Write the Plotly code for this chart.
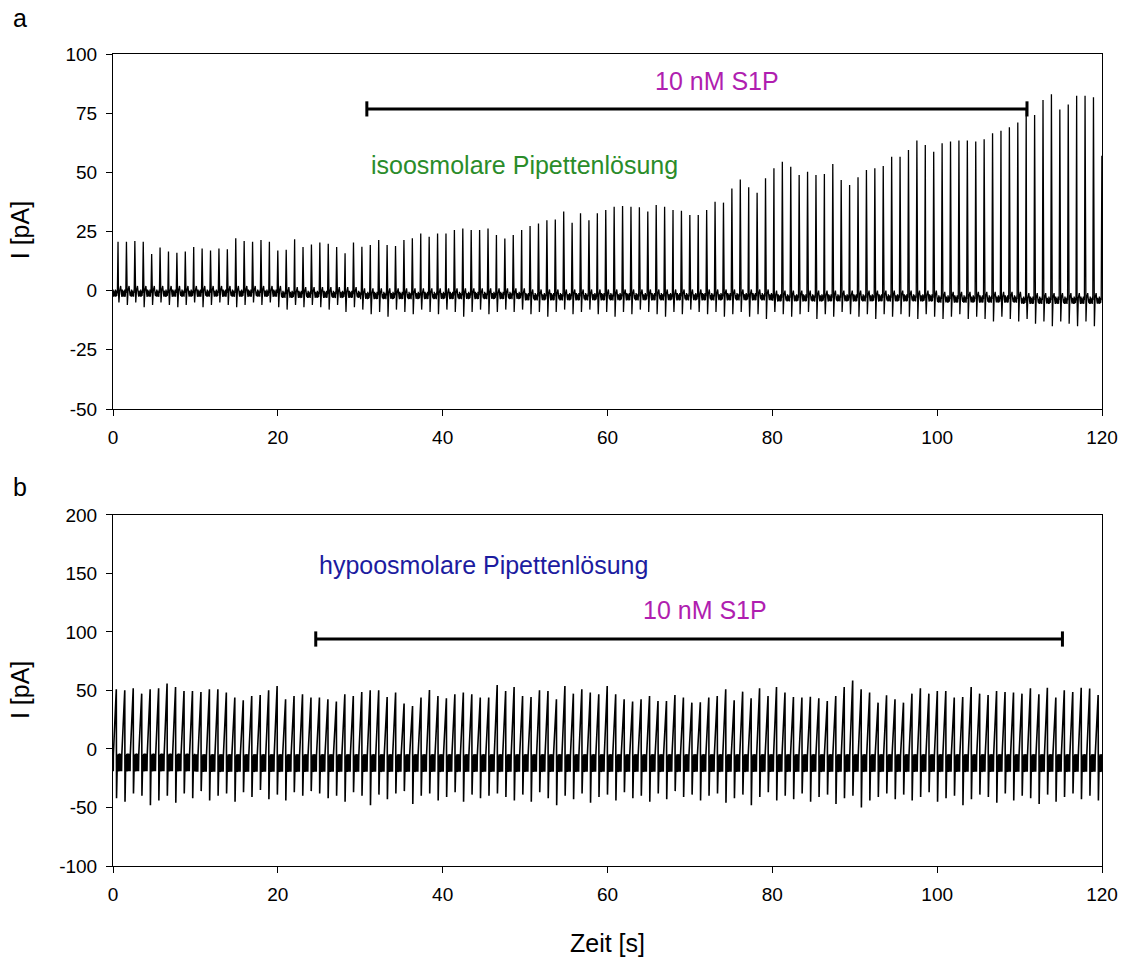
import plotly.graph_objects as go

# ---------------- recorded action currents ----------------
# Panel a: isoosmotic pipette solution
A_T0 = 0.61          # time of first spike [s]
A_PERIOD = 1.0203    # mean beat interval [s]
A_PEAK = [
    20.7, 20.7, 21.0, 20.7, 15.5, 18.2, 16.5, 16.0, 16.5, 18.5, 17.8, 17.0, 17.8, 17.5, 22.1, 21.0,
    20.7, 21.4, 20.7, 17.0, 17.3, 21.7, 18.5, 19.5,
    20.3, 19.8, 18.4, 15.8, 20.3, 18.6, 19.3, 21.4, 19.3, 18.9, 21.4, 22.1, 24.2, 22.8, 24.2, 24.2,
    25.6, 26.3, 25.6, 25.6, 26.3, 23.5, 22.0,
    23.5, 25.6, 27.3, 28.4, 29.8, 30.1, 33.4, 28.7, 32.7, 29.8, 32.7, 34.1, 35.5, 35.8, 35.5, 35.2,
    33.4, 36.2, 35.5, 34.1, 33.8, 32.0, 32.0,
    34.1, 37.6, 37.2, 43.2, 47.0, 43.7, 41.4, 47.5, 51.7, 54.5, 52.4, 48.9, 50.3, 48.9, 49.3, 53.5,
    46.8, 44.6, 47.9, 51.0, 51.7, 52.7, 56.6,
    56.6, 59.4, 63.4, 61.5, 58.7, 62.3, 63.0, 63.4, 63.4, 63.0, 64.0, 66.5, 67.6, 69.0, 71.1, 76.3,
    74.2, 80.6, 83.0, 76.6, 78.7, 82.4, 82.4, 81.7, 57.0,
]
A_TROUGH = [
    -5, -6, -5, -7, -6, -5, -6, -7, -6, -5, -7, -6, -5, -6, -7, -6, -5, -6, -5, -7, -8, -6, -7, -6,
    -7, -8, -6, -9, -7, -8, -10, -9, -11, -8, -9, -10, -8, -9, -10, -8, -9, -11, -9, -8, -10, -9, -8,
    -9, -8, -10, -9, -11, -9, -8, -10, -9, -8, -10, -9, -11, -9, -10, -8, -9, -10, -11, -9, -10, -8, -9,
    -10, -9, -11, -10, -9, -11, -10, -12, -9, -10, -11, -10, -9, -12, -10, -11, -9, -10, -11, -10, -12, -10, -11,
    -10, -11, -12, -10, -11, -12, -11, -10, -12, -11, -12, -13, -11, -12, -13, -12, -14, -13, -15, -13,
    -14, -15, -13, -15, -14,
]
# holding-current baseline, one value per 10-s block
A_BASE = [-1.0, -1.0, -1.5, -2.0, -2.0, -2.5, -2.5, -2.5, -3.0, -3.0, -3.5, -4.0]

# Panel b: hypoosmotic pipette solution
B_T0 = 0.4
B_PERIOD = 1.027
B_PEAK = [
    51.0, 50.2, 51.9, 47.3, 51.0, 51.9, 55.9, 53.0, 49.6, 49.6, 48.7, 51.0, 51.0, 48.2, 43.9, 41.6,
    45.3, 46.2, 50.2, 53.9, 42.5, 45.3, 46.7, 43.9,
    43.9, 42.5, 40.5, 46.7, 45.3, 48.7, 50.2, 50.2, 44.5, 48.2, 38.8, 36.8, 43.9, 50.4, 45.3, 43.3,
    46.7, 48.2, 46.7, 43.9, 43.9, 54.7,
    49.6, 53.0, 45.3, 44.5, 50.2, 49.6, 42.5, 53.9, 47.3, 51.0, 48.2, 46.7, 53.9, 46.7, 42.5, 40.5,
    42.5, 45.3, 41.0, 41.0, 46.2, 43.9, 39.6,
    40.0, 43.9, 45.3, 51.0, 41.6, 49.0, 43.3, 51.9, 45.3, 53.0, 48.2, 44.5, 43.9, 44.7, 43.3, 41.0,
    45.3, 53.0, 58.5, 51.0, 48.2, 39.6, 45.9, 42.5,
    39.6, 47.3, 51.9, 47.3, 49.6, 49.6, 43.9, 44.5, 53.0, 47.3, 46.2, 49.6, 48.7, 48.2, 47.3, 51.9,
    46.7, 52.4, 43.9, 50.2, 48.7, 52.4, 51.6, 46.2,
]
B_TROUGH = [
    -42, -45, -38, -40, -48, -44, -40, -46, -38, -42, -36, -44, -40, -38, -45, -37, -41, -35, -43, -39,
    -44, -37, -40, -36,
    -38, -42, -40, -45, -37, -40, -48, -39, -43, -38, -36, -47, -40, -38, -44, -41, -37, -45, -39, -42,
    -40, -38,
    -41, -44, -39, -45, -37, -42, -48, -40, -43, -38, -46, -41, -39, -44, -37, -42, -40, -45, -38, -43,
    -36, -41, -39,
    -44, -40, -38, -46, -42, -39, -48, -41, -37, -44, -40, -43, -38, -45, -41, -39, -47, -42, -40, -50,
    -44, -41, -38, -43,
    -39, -44, -41, -37, -45, -42, -40, -48, -43, -39, -41, -46, -38, -44, -40, -42, -47, -39, -45, -41,
    -38, -43, -40, -44,
]
B_BASE = [-11.5, -12.0, -12.0, -12.0, -12.0, -12.0, -12.0, -12.0, -12.0, -12.0, -12.0, -12.0]

T_END = 120.0
X_TICKS = [0, 20, 40, 60, 80, 100, 120]
A_Y_TICKS = [-50, -25, 0, 25, 50, 75, 100]
B_Y_TICKS = [-100, -50, 0, 50, 100, 150, 200]

# S1P application windows [s] and bar heights [pA]
A_S1P = (30.8, 110.9, 76.8)
B_S1P = (24.6, 115.2, 94.0)

# ---------------- waveform of a single beat ----------------
# (time offset from peak [s], anchor: b=baseline / p=peak / t=trough, offset [pA])
A_SHAPE = [(-0.08, "b", 0.0), (0.0, "p", 0.0), (0.05, "b", 1.0), (0.11, "t", 0.0),
           (0.20, "b", 1.0), (0.32, "b", 3.0), (0.42, "b", -0.5)]
A_RIPPLE = [1.5, -1.5, 1.0, -1.2, 0.6, -1.6]
A_RIPPLE_DT = 0.05

B_SHAPE = [(-0.36, "b", 6.0), (0.0, "p", 0.0), (0.03, "t", 0.0), (0.10, "b", -6.0)]
B_RIPPLE = [7.5, -7.5, 5.0, -6.5, 6.5, -5.0]
B_RIPPLE_DT = 0.03


def block_base(blocks, t):
    return blocks[max(0, min(int(t // 10), len(blocks) - 1))]


def build_trace(t0, period, peaks, troughs, blocks, shape, ripple, rdt):
    ts, ys = [], []
    cursor = 0.0
    r = 0

    def fill_ripple(start, stop):
        nonlocal r
        t = start
        while t < stop:
            ts.append(t)
            ys.append(block_base(blocks, t) + ripple[r % len(ripple)])
            r += 1
            t += rdt

    for i, (pk, tr) in enumerate(zip(peaks, troughs)):
        tp = t0 + i * period
        first = max(tp + shape[0][0], 0.0)
        fill_ripple(cursor, first)
        base = block_base(blocks, tp)
        for dt, kind, off in shape:
            t = tp + dt
            if t < 0 or t > T_END:
                continue
            if kind == "p":
                v = pk
            elif kind == "t":
                v = tr
            else:
                v = base + off
            ts.append(t)
            ys.append(v)
        cursor = tp + shape[-1][0] + rdt
    fill_ripple(cursor, T_END)
    return ts, ys


ta, ya = build_trace(A_T0, A_PERIOD, A_PEAK, A_TROUGH, A_BASE, A_SHAPE, A_RIPPLE, A_RIPPLE_DT)
tb, yb = build_trace(B_T0, B_PERIOD, B_PEAK, B_TROUGH, B_BASE, B_SHAPE, B_RIPPLE, B_RIPPLE_DT)

FONT = "Arial, Liberation Sans, sans-serif"

fig = go.Figure()
fig.add_trace(go.Scatter(x=ta, y=ya, mode="lines", line=dict(color="black", width=1.3),
                         xaxis="x", yaxis="y", showlegend=False, hoverinfo="skip"))
fig.add_trace(go.Scatter(x=tb, y=yb, mode="lines", line=dict(color="black", width=1.6),
                         xaxis="x2", yaxis="y2", showlegend=False, hoverinfo="skip"))

axis_common = dict(showline=True, linecolor="black", linewidth=1, mirror=True,
                   ticks="outside", ticklen=6, tickcolor="black", tickwidth=1,
                   showgrid=False, zeroline=False,
                   tickfont=dict(family=FONT, size=19, color="black"))


def tick_text(vals):
    # plain hyphen-minus for negative labels
    return [str(v) for v in vals]


fig.update_layout(
    width=1132, height=972,
    margin=dict(l=113, r=30, t=54, b=106),
    paper_bgcolor="white", plot_bgcolor="white",
    xaxis=dict(domain=[0, 1], anchor="y", range=[0, 120], tickvals=X_TICKS,
               ticktext=tick_text(X_TICKS), ticklabelstandoff=5, **axis_common),
    yaxis=dict(domain=[0.5628, 1], anchor="x", range=[-50, 100], tickvals=A_Y_TICKS,
               ticktext=tick_text(A_Y_TICKS), ticklabelstandoff=5, **axis_common),
    xaxis2=dict(domain=[0, 1], anchor="y2", range=[0, 120], tickvals=X_TICKS,
                ticktext=tick_text(X_TICKS), ticklabelstandoff=5, **axis_common),
    yaxis2=dict(domain=[0, 0.4323], anchor="x2", range=[-100, 200], tickvals=B_Y_TICKS,
                ticktext=tick_text(B_Y_TICKS), ticklabelstandoff=5, **axis_common),
)

# S1P application bars with end caps
for (x0, x1, yb_), xr, yr, cap in [(A_S1P, "x", "y", 3.2), (B_S1P, "x2", "y2", 6.5)]:
    fig.add_shape(type="line", x0=x0, x1=x1, y0=yb_, y1=yb_, xref=xr, yref=yr,
                  line=dict(color="black", width=3))
    for xe in (x0, x1):
        fig.add_shape(type="line", x0=xe, x1=xe, y0=yb_ - cap, y1=yb_ + cap, xref=xr, yref=yr,
                      line=dict(color="black", width=3))

MAGENTA = "#B01EB0"
GREEN = "#2A8C2A"
BLUE = "#1C1CA0"

texts = [
    dict(text="10 nM S1P", x=73.3, y=88.6, xref="x", yref="y", color=MAGENTA),
    dict(text="isoosmolare Pipettenlösung", x=49.9, y=53.1, xref="x", yref="y", color=GREEN),
    dict(text="hypoosmolare Pipettenlösung", x=44.9, y=157.3, xref="x2", yref="y2", color=BLUE),
    dict(text="10 nM S1P", x=71.8, y=118.8, xref="x2", yref="y2", color=MAGENTA),
]
for t in texts:
    fig.add_annotation(text=t["text"], x=t["x"], y=t["y"], xref=t["xref"], yref=t["yref"],
                       showarrow=False, xanchor="center", yanchor="middle",
                       font=dict(family=FONT, size=25, color=t["color"]))

# axis titles and panel letters
labels = [
    dict(text="I [pA]", x=-0.094, y=0.783, angle=-90, size=25),
    dict(text="I [pA]", x=-0.094, y=0.2167, angle=-90, size=25),
    dict(text="Zeit [s]", x=0.4995, y=-0.0948, angle=0, size=25),
    dict(text="a", x=-0.094, y=1.0443, angle=0, size=25),
    dict(text="b", x=-0.094, y=0.4667, angle=0, size=25),
]
for l in labels:
    fig.add_annotation(text=l["text"], x=l["x"], y=l["y"], xref="paper", yref="paper",
                       showarrow=False, xanchor="center", yanchor="middle", textangle=l["angle"],
                       font=dict(family=FONT, size=l["size"], color="black"))

fig.write_html("out.html")
